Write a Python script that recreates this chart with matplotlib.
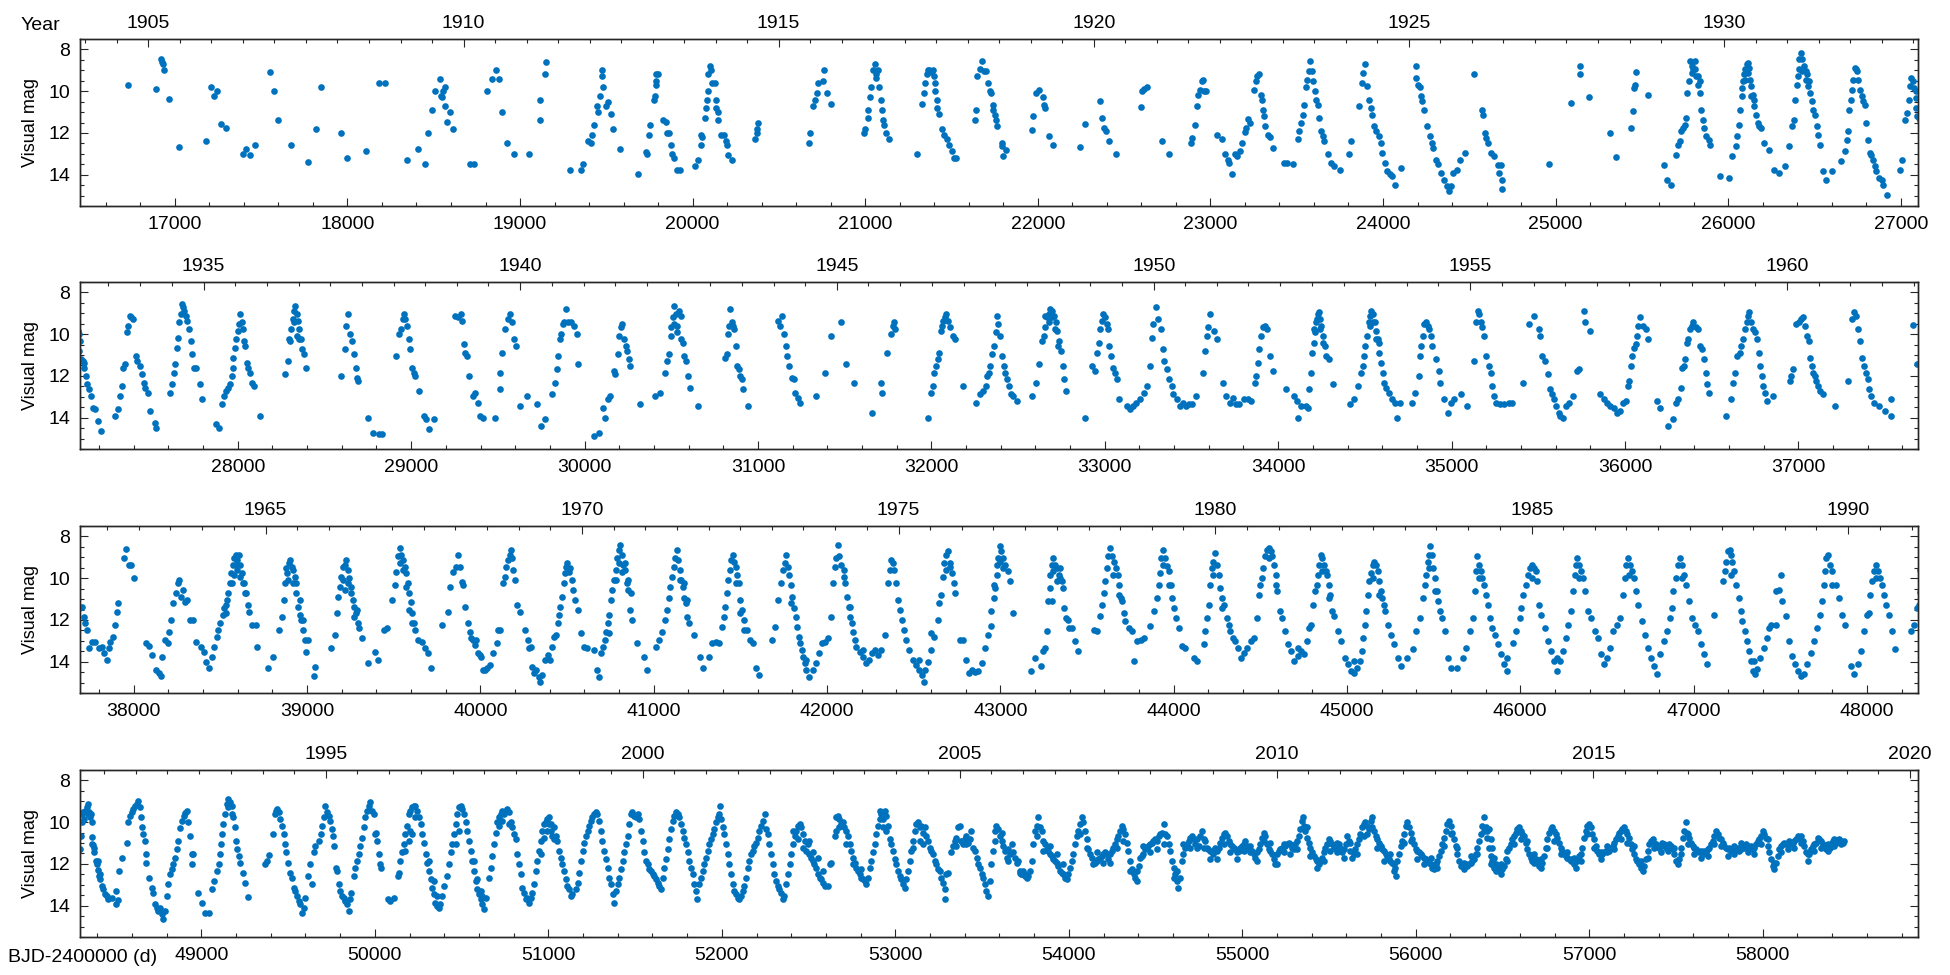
import numpy as np
import matplotlib
matplotlib.use("Agg")
import matplotlib.pyplot as plt
from matplotlib.ticker import MultipleLocator, FixedLocator, FormatStrFormatter
from datetime import date

plt.rcParams['font.family'] = ['Liberation Sans', 'DejaVu Sans']

# =====================================================================
# DATA: (BJD-2400000, visual mag), per panel
# =====================================================================
obs_1905 = [
    (16727, 9.68), (16891, 9.89), (16920, 8.48), (16925, 8.59), (16930, 8.7), (16935, 8.99), (16964, 10.37),
    (17025, 12.67), (17182, 12.38), (17207, 9.79), (17225, 10.21), (17244, 10.0), (17269, 11.57), (17298, 11.78),
    (17393, 12.99), (17415, 12.77), (17436, 13.07), (17465, 12.59), (17553, 9.09), (17574, 9.98), (17600, 11.39),
    (17673, 12.59), (17774, 13.38), (17818, 11.79), (17847, 9.81), (17964, 12.0), (18000, 13.18), (18105, 12.88),
    (18182, 9.6), (18218, 9.6), (18345, 13.28), (18411, 12.78), (18447, 13.47), (18469, 12.0), (18491, 10.9),
    (18509, 10.0), (18534, 9.41), (18542, 10.21), (18549, 10.3), (18556, 10.0), (18563, 9.81), (18563, 10.69),
    (18578, 11.49), (18593, 10.99), (18611, 11.79), (18709, 13.47), (18734, 13.47), (18807, 10.0), (18836, 9.41),
    (18862, 8.99), (18876, 9.41), (18898, 10.99), (18927, 12.48), (18963, 12.99), (19054, 12.99), (19116, 10.4),
    (19116, 11.39), (19145, 9.2), (19152, 8.59), (19291, 13.79), (19356, 13.79), (19363, 13.47), (19393, 12.38),
    (19411, 12.48), (19418, 12.08), (19429, 11.6), (19447, 10.69), (19454, 10.99), (19462, 10.21), (19472, 8.99),
    (19472, 9.28), (19483, 9.81), (19498, 10.69), (19509, 10.5), (19527, 11.09), (19538, 11.79), (19582, 12.78),
    (19683, 13.98), (19727, 12.9), (19734, 12.99), (19745, 12.08), (19752, 11.6), (19774, 10.4), (19782, 10.21),
    (19789, 9.2), (19800, 9.2), (19789, 9.52), (19789, 9.7), (19829, 11.39), (19843, 11.49), (19854, 12.0),
    (19865, 12.0), (19872, 12.59), (19880, 12.99), (19891, 13.18), (19909, 13.79), (19927, 13.79), (20011, 13.58),
    (20029, 13.3), (20047, 12.59), (20047, 12.08), (20054, 12.2), (20072, 11.28), (20080, 10.8), (20083, 10.4),
    (20087, 10.0), (20091, 9.2), (20098, 8.8), (20109, 8.99), (20112, 9.6), (20127, 9.6), (20134, 10.4),
    (20138, 10.8), (20145, 10.99), (20145, 11.39), (20163, 12.08), (20182, 12.08), (20192, 12.38), (20200, 12.59),
    (20207, 13.07), (20229, 13.3), (20363, 12.29), (20371, 12.0), (20374, 11.79), (20381, 11.52), (20672, 12.48),
    (20680, 12.0), (20698, 10.69), (20709, 10.4), (20723, 10.11), (20727, 9.6), (20756, 9.52), (20763, 8.99),
    (20781, 10.11), (20800, 10.59), (20992, 12.0), (21000, 11.79), (21018, 11.28), (21018, 10.9), (21029, 10.3),
    (21036, 9.79), (21047, 8.99), (21054, 8.72), (21061, 9.2), (21061, 9.36), (21072, 8.99), (21080, 9.79),
    (21091, 10.4), (21098, 10.9), (21101, 11.39), (21109, 11.6), (21120, 12.0), (21138, 12.29), (21298, 12.99),
    (21327, 10.59), (21338, 10.11), (21345, 9.6), (21356, 9.2), (21363, 8.99), (21370, 8.99), (21381, 9.09),
    (21392, 8.99), (21400, 9.28), (21407, 9.6), (21407, 10.0), (21418, 10.4), (21418, 10.8), (21425, 11.09),
    (21447, 11.79), (21454, 12.08), (21472, 12.29), (21483, 12.59), (21501, 12.88), (21516, 13.18), (21527, 13.18),
    (21636, 11.39), (21643, 10.9), (21650, 9.28), (21664, 8.96), (21675, 8.56), (21686, 9.04), (21700, 9.04),
    (21711, 9.6), (21722, 10.0), (21729, 10.08), (21740, 10.64), (21740, 10.88), (21751, 11.12), (21758, 11.39),
    (21765, 11.68), (21791, 12.48), (21791, 12.64), (21801, 13.12), (21816, 12.8), (21964, 11.84), (21971, 11.2),
    (21989, 10.08), (22007, 9.95), (22029, 10.29), (22036, 10.64), (22043, 10.8), (22065, 12.16), (22090, 12.59),
    (22242, 12.69), (22271, 11.57), (22361, 10.48), (22372, 11.28), (22386, 11.76), (22397, 11.92), (22415, 12.4),
    (22451, 12.99), (22596, 10.77), (22603, 10.0), (22614, 9.89), (22632, 9.79), (22722, 12.4), (22758, 12.99),
    (22885, 12.48), (22895, 12.24), (22910, 11.6), (22921, 10.72), (22928, 10.16), (22939, 9.92), (22950, 9.52),
    (22957, 9.47), (22964, 10.0), (22975, 10.0), (23040, 12.08), (23065, 12.29), (23083, 12.99), (23101, 13.28),
    (23108, 13.44), (23126, 13.98), (23144, 12.99), (23155, 13.12), (23173, 12.88), (23184, 12.48), (23198, 11.97),
    (23209, 11.76), (23216, 11.31), (23227, 11.52), (23253, 9.92), (23264, 9.52), (23271, 9.28), (23282, 9.2),
    (23292, 10.16), (23300, 10.4), (23307, 10.88), (23310, 11.2), (23318, 11.68), (23336, 12.08), (23347, 12.19),
    (23361, 12.72), (23426, 13.44), (23444, 13.44), (23480, 13.47), (23505, 12.29), (23516, 11.92), (23523, 11.52),
    (23534, 11.12), (23541, 10.64), (23552, 9.79), (23560, 9.44), (23570, 9.04), (23578, 8.56), (23588, 9.04),
    (23596, 9.52), (23606, 10.0), (23614, 10.4), (23624, 10.64), (23632, 11.28), (23643, 11.92), (23650, 12.16),
    (23661, 12.4), (23679, 12.99), (23697, 13.44), (23715, 13.6), (23751, 13.76), (23805, 12.99), (23816, 12.4),
    (23859, 10.72), (23877, 9.6), (23884, 9.15), (23895, 8.72), (23906, 9.76), (23921, 10.4), (23931, 10.8),
    (23939, 11.12), (23949, 11.68), (23960, 11.92), (23975, 12.16), (23986, 12.48), (23996, 12.96), (24011, 13.44),
    (24022, 13.84), (24040, 13.95), (24050, 14.08), (24069, 14.48), (24105, 13.68), (24191, 8.77), (24191, 9.36),
    (24202, 9.68), (24213, 9.79), (24220, 10.24), (24227, 10.48), (24238, 10.88), (24256, 11.68), (24274, 12.16),
    (24285, 12.48), (24292, 12.72), (24310, 13.28), (24321, 13.47), (24336, 13.92), (24354, 14.24), (24372, 14.56),
    (24383, 14.8), (24393, 14.56), (24408, 13.92), (24429, 13.76), (24444, 13.28), (24473, 12.96), (24527, 9.2),
    (24574, 10.88), (24581, 11.12), (24592, 12.0), (24599, 12.24), (24606, 12.48), (24628, 12.96), (24646, 13.12),
    (24664, 13.52), (24671, 13.92), (24682, 13.52), (24690, 14.24), (24690, 14.69), (24960, 13.47), (25087, 10.56),
    (25141, 8.8), (25141, 9.2), (25195, 10.29), (25314, 12.0), (25350, 13.17), (25437, 11.76), (25448, 10.96),
    (25455, 9.84), (25458, 9.68), (25466, 9.09), (25538, 10.19), (25628, 13.55), (25646, 14.27), (25671, 14.48),
    (25700, 13.04), (25711, 12.56), (25718, 12.4), (25729, 11.92), (25736, 11.76), (25747, 11.6), (25754, 11.28),
    (25761, 10.08), (25772, 9.52), (25780, 8.56), (25790, 8.8), (25798, 8.96), (25808, 8.56), (25816, 9.28),
    (25826, 9.68), (25837, 10.08), (25845, 10.88), (25852, 11.36), (25862, 11.76), (25873, 12.16), (25887, 12.32),
    (25894, 12.56), (25790, 9.12), (25808, 8.96), (25826, 9.28), (25837, 9.52), (25953, 14.08), (26007, 14.16),
    (26025, 13.12), (26043, 12.64), (26054, 12.16), (26061, 11.6), (26068, 10.88), (26079, 9.84), (26087, 9.52),
    (26090, 9.2), (26097, 8.96), (26108, 8.72), (26115, 8.64), (26123, 8.88), (26126, 9.44), (26133, 9.76),
    (26141, 10.16), (26152, 10.72), (26159, 11.12), (26170, 11.52), (26177, 11.68), (26188, 11.76), (26206, 12.48),
    (26235, 12.8), (26097, 9.44), (26115, 9.12), (26133, 10.24), (26152, 10.4), (26079, 10.24), (26267, 13.76),
    (26296, 13.92), (26332, 13.6), (26350, 12.64), (26368, 11.68), (26379, 11.36), (26386, 10.4), (26397, 9.68),
    (26404, 9.28), (26411, 8.48), (26422, 8.16), (26429, 8.48), (26440, 8.8), (26451, 9.04), (26458, 9.2),
    (26469, 9.52), (26476, 10.08), (26487, 10.48), (26494, 10.88), (26502, 11.12), (26512, 11.68), (26520, 12.08),
    (26530, 12.56), (26411, 8.96), (26429, 9.04), (26451, 9.44), (26465, 9.76), (26548, 13.84), (26566, 14.24),
    (26602, 13.84), (26656, 13.36), (26675, 12.88), (26686, 12.32), (26693, 11.92), (26700, 10.88), (26711, 10.4),
    (26718, 9.92), (26726, 9.44), (26733, 8.88), (26740, 8.96), (26747, 9.04), (26754, 9.44), (26765, 9.92),
    (26776, 10.24), (26783, 10.48), (26790, 10.64), (26801, 11.52), (26809, 12.32), (26819, 12.96), (26830, 13.04),
    (26837, 13.28), (26848, 13.6), (26855, 13.84), (26873, 14.16), (26891, 14.24), (26899, 14.48), (26920, 14.96),
    (26993, 13.76), (27007, 13.28), (27025, 11.36), (27036, 11.04), (27047, 10.4), (27054, 9.76), (27061, 9.36),
    (27072, 9.52), (27079, 9.84), (27090, 10.32),
]

obs_1935 = [
    (27087, 10.0), (27087, 10.8), (27094, 11.2), (27105, 11.28), (27112, 11.36), (27116, 11.6), (27123, 12.0),
    (27130, 12.4), (27141, 12.64), (27156, 12.96), (27167, 13.52), (27177, 13.6), (27196, 14.16), (27210, 14.64),
    (27294, 13.92), (27312, 13.6), (27323, 12.96), (27330, 12.48), (27341, 11.6), (27348, 11.44), (27359, 9.92),
    (27366, 9.6), (27377, 9.12), (27384, 9.2), (27395, 9.28), (27413, 11.04), (27420, 11.28), (27439, 11.52),
    (27449, 11.92), (27457, 12.32), (27467, 12.56), (27485, 12.8), (27493, 13.68), (27522, 14.24), (27529, 14.48),
    (27609, 12.8), (27620, 12.4), (27630, 11.84), (27638, 11.44), (27649, 10.64), (27656, 10.16), (27663, 9.44),
    (27670, 9.04), (27678, 8.56), (27685, 8.72), (27692, 8.88), (27699, 9.12), (27710, 9.36), (27721, 9.76),
    (27728, 10.32), (27739, 10.96), (27746, 11.6), (27757, 11.6), (27783, 12.4), (27793, 13.12), (27873, 14.32),
    (27891, 14.48), (27909, 13.36), (27920, 12.96), (27935, 12.72), (27946, 12.56), (27953, 12.4), (27964, 12.0),
    (27971, 11.6), (27975, 11.12), (27982, 10.64), (27989, 10.24), (28000, 9.84), (28007, 9.52), (28014, 9.04),
    (28022, 9.44), (28029, 9.76), (28036, 10.32), (28043, 10.56), (28054, 11.36), (28062, 11.6), (28072, 11.84),
    (28083, 12.32), (28091, 12.48), (28127, 13.92), (28272, 11.92), (28290, 11.28), (28297, 10.24), (28308, 9.76),
    (28319, 9.28), (28326, 8.88), (28333, 8.64), (28341, 9.04), (28348, 9.36), (28355, 9.76), (28362, 10.24),
    (28373, 10.72), (28380, 10.96), (28391, 11.6), (28301, 10.32), (28326, 9.44), (28344, 10.08), (28355, 10.24),
    (28598, 12.0), (28616, 10.72), (28623, 9.6), (28634, 9.04), (28645, 10.0), (28659, 10.32), (28670, 10.96),
    (28681, 11.6), (28688, 12.08), (28696, 12.24), (28750, 14.0), (28779, 14.72), (28815, 14.8), (28833, 14.8),
    (28913, 11.04), (28931, 10.0), (28942, 9.76), (28953, 9.28), (28960, 9.04), (28967, 9.28), (28978, 9.6),
    (28989, 10.24), (28996, 10.72), (29007, 11.6), (29014, 11.84), (29025, 12.0), (29043, 12.72), (29076, 13.92),
    (29087, 14.08), (29105, 14.56), (29134, 14.08), (29250, 9.12), (29268, 9.2), (29286, 9.04), (29293, 9.36),
    (29304, 10.48), (29311, 10.88), (29322, 11.04), (29333, 12.0), (29359, 12.96), (29370, 12.8), (29384, 13.28),
    (29395, 13.92), (29413, 14.0), (29485, 14.0), (29511, 12.64), (29514, 11.84), (29522, 10.88), (29540, 9.76),
    (29558, 9.28), (29569, 9.04), (29580, 9.44), (29594, 10.24), (29605, 10.56), (29630, 13.44), (29666, 12.96),
    (29728, 13.36), (29746, 14.4), (29774, 14.08), (29811, 12.88), (29829, 12.32), (29840, 11.68), (29847, 11.04),
    (29858, 10.24), (29866, 10.0), (29873, 9.52), (29884, 9.44), (29895, 8.8), (29905, 9.44), (29920, 9.44),
    (29938, 9.6), (29956, 10.0), (29964, 11.44), (30054, 14.88), (30083, 14.72), (30109, 13.52), (30119, 14.0),
    (30138, 13.12), (30145, 12.96), (30167, 11.76), (30174, 11.92), (30192, 10.96), (30199, 10.08), (30210, 9.68),
    (30217, 9.52), (30228, 10.24), (30239, 10.56), (30246, 10.8), (30257, 11.2), (30264, 11.52), (30319, 13.36),
    (30409, 12.96), (30434, 12.8), (30463, 11.84), (30474, 11.28), (30489, 10.96), (30500, 9.68), (30511, 9.2),
    (30518, 8.64), (30529, 9.04), (30536, 9.6), (30547, 8.88), (30558, 9.12), (30565, 10.4), (30572, 11.04),
    (30583, 11.28), (30598, 12.0), (30609, 12.56), (30656, 13.44), (30500, 10.08), (30518, 9.52), (30536, 9.92),
    (30554, 10.24), (30808, 11.12), (30819, 10.96), (30826, 10.0), (30833, 9.6), (30841, 8.8), (30848, 9.44),
    (30855, 9.6), (30862, 9.76), (30873, 10.56), (30880, 11.52), (30891, 11.68), (30898, 12.0), (30909, 12.16),
    (30916, 12.64), (30945, 13.44), (31116, 9.36), (31127, 9.6), (31141, 9.12), (31152, 10.0), (31163, 10.56),
    (31170, 11.04), (31181, 11.52), (31196, 12.08), (31206, 12.16), (31213, 12.8), (31232, 13.04), (31242, 13.28),
    (31333, 12.96), (31387, 11.84), (31424, 10.08), (31478, 9.44), (31507, 11.44), (31554, 12.32), (31656, 13.76),
    (31707, 12.32), (31717, 12.8), (31743, 10.88), (31765, 10.0), (31779, 9.6), (31786, 9.44), (31793, 9.76),
    (31982, 14.0), (32000, 12.8), (32007, 12.48), (32018, 11.84), (32025, 11.52), (32036, 11.2), (32043, 10.88),
    (32054, 9.84), (32062, 9.6), (32069, 9.36), (32080, 9.2), (32087, 9.04), (32098, 9.36), (32109, 9.68),
    (32127, 10.08), (32134, 10.24), (32185, 12.48),
    (32255, 13.28), (32280, 12.88), (32298, 12.72), (32316, 12.48), (32323, 12.0), (32334, 11.84), (32341, 11.52),
    (32352, 10.96), (32359, 10.56), (32370, 9.92), (32377, 9.12), (32384, 9.52), (32395, 10.08), (32406, 11.04),
    (32417, 11.52), (32424, 11.84), (32435, 12.16), (32449, 12.48), (32460, 12.88), (32471, 12.96), (32496, 13.2),
    (32579, 12.96), (32604, 12.32), (32622, 11.44), (32640, 10.32), (32647, 10.08), (32658, 9.68), (32669, 9.2),
    (32676, 9.04), (32683, 8.8), (32694, 8.88), (32705, 9.12), (32716, 9.44), (32726, 9.84), (32737, 10.32),
    (32748, 10.8), (32759, 11.52), (32766, 12.16), (32777, 12.72), (32658, 9.12), (32676, 9.44), (32694, 9.2),
    (32712, 9.76), (32730, 10.56), (32885, 14.0), (32928, 11.52), (32946, 11.76), (32953, 10.88), (32964, 10.4),
    (32971, 9.76), (32982, 9.36), (32989, 9.04), (33000, 9.2), (33011, 9.52), (33018, 9.76), (33025, 10.56),
    (33036, 11.04), (33047, 11.6), (33061, 11.84), (33072, 12.16), (33083, 13.12), (33126, 13.44), (33144, 13.6),
    (33162, 13.44), (33180, 13.28), (33205, 13.12), (33227, 12.8), (33245, 12.48), (33259, 11.52), (33270, 10.16),
    (33281, 9.52), (33295, 8.72), (33306, 9.28), (33324, 9.76), (33335, 10.72), (33342, 11.28), (33360, 11.68),
    (33371, 12.16), (33385, 12.48), (33396, 12.88), (33414, 13.12), (33432, 13.44), (33450, 13.28), (33468, 13.44),
    (33486, 13.36), (33504, 13.36), (33529, 12.96), (33565, 11.84), (33576, 10.8), (33587, 10.08), (33594, 9.68),
    (33608, 9.04), (33630, 9.84), (33648, 10.24), (33684, 12.32), (33702, 12.96), (33720, 13.28), (33738, 13.04),
    (33756, 13.36), (33774, 13.36), (33803, 13.12), (33828, 13.12), (33846, 13.2), (33864, 12.32), (33875, 12.0),
    (33882, 11.36), (33889, 10.72), (33900, 10.08), (33911, 9.68), (33925, 9.6), (33936, 9.76), (33954, 11.04),
    (33972, 11.76), (34044, 12.64), (34091, 12.96), (34109, 13.2), (34116, 14.0), (34134, 13.44), (34163, 13.44),
    (34170, 13.52), (34177, 12.64), (34188, 11.84), (34195, 10.88), (34206, 10.4), (34213, 9.92), (34220, 9.44),
    (34228, 9.04), (34235, 8.96), (34242, 9.28), (34249, 9.6), (34260, 10.08), (34271, 10.56), (34278, 11.04),
    (34296, 11.2), (34314, 12.4), (34206, 9.76), (34224, 9.28), (34242, 9.76), (34260, 10.4), (34415, 13.36),
    (34440, 13.12), (34458, 12.48), (34476, 11.84), (34487, 11.52), (34494, 11.04), (34501, 10.56), (34512, 10.08),
    (34523, 9.44), (34530, 9.12), (34537, 8.88), (34548, 9.04), (34559, 9.44), (34566, 9.84), (34577, 10.24),
    (34584, 10.88), (34595, 11.36), (34602, 11.84), (34613, 12.32), (34620, 12.56), (34638, 12.8), (34656, 13.12),
    (34674, 13.28), (34688, 14.0), (34703, 13.28), (34530, 9.6), (34548, 9.44), (34566, 10.24), (34584, 10.4),
    (34771, 13.28), (34789, 12.8), (34811, 12.0), (34818, 11.04), (34825, 10.56), (34836, 10.08), (34843, 9.52),
    (34854, 9.44), (34865, 9.6), (34872, 9.76), (34883, 10.08), (34890, 10.56), (34908, 11.2), (34926, 11.76),
    (34933, 12.32), (34955, 13.12), (34980, 13.76), (34998, 13.28), (35016, 13.12), (35052, 12.88), (35088, 13.44),
    (35128, 11.28), (35142, 9.44), (35153, 8.88), (35160, 9.04), (35171, 9.44), (35178, 9.68), (35189, 10.08),
    (35200, 11.04), (35214, 11.52), (35225, 11.84), (35236, 12.48), (35243, 12.96), (35257, 13.28), (35279, 13.36),
    (35304, 13.36), (35329, 13.28), (35351, 13.28), (35412, 12.32), (35448, 9.52), (35477, 9.12), (35502, 9.76),
    (35509, 10.08), (35520, 11.04), (35538, 11.28), (35556, 11.92), (35567, 12.64), (35581, 12.88), (35592, 13.12),
    (35603, 13.44), (35617, 13.76), (35626, 13.92), (35644, 14.0), (35662, 13.44), (35680, 13.28), (35698, 12.96),
    (35723, 11.76), (35734, 11.68), (35761, 8.88), (35772, 9.44), (35797, 9.84), (35855, 12.88), (35880, 13.12),
    (35898, 13.28), (35916, 13.44), (35934, 13.52), (35952, 13.76), (35970, 13.68), (35988, 13.28), (36006, 13.2),
    (36017, 12.48), (36024, 12.24), (36035, 11.52), (36042, 11.04), (36053, 10.64), (36064, 10.48), (36071, 10.08),
    (36078, 9.6), (36089, 9.2), (36103, 9.6), (36121, 9.76), (36132, 10.24), (36186, 13.2), (36204, 13.52),
    (36251, 14.4), (36276, 14.08), (36294, 13.28), (36305, 13.12), (36323, 12.56), (36330, 11.6), (36341, 11.52),
    (36348, 11.2), (36359, 10.4), (36366, 10.24), (36377, 9.76), (36384, 9.6), (36395, 9.44), (36409, 9.68),
    (36420, 9.76), (36431, 10.56), (36445, 10.72), (36456, 11.2), (36467, 11.84), (36474, 12.4), (36485, 12.8),
    (36582, 13.92), (36611, 13.12), (36625, 12.32), (36636, 11.84), (36647, 11.04), (36661, 10.88), (36672, 10.56),
    (36683, 10.24), (36690, 9.76), (36701, 9.44), (36708, 9.12), (36715, 8.96), (36726, 9.44), (36737, 9.76),
    (36752, 9.92), (36762, 10.24), (36773, 10.88), (36780, 11.52), (36791, 12.0), (36798, 12.48), (36809, 12.8),
    (36820, 13.2), (36852, 12.96), (36949, 12.24), (36960, 12.0), (36971, 11.68), (36989, 9.52), (37003, 9.44),
    (37014, 9.28), (37025, 9.2), (37036, 9.6), (37050, 10.08), (37061, 10.32), (37068, 11.12), (37079, 11.52),
    (37086, 11.84), (37097, 12.0), (37104, 12.24), (37115, 12.48), (37122, 12.72), (37140, 12.88), (37212, 13.44),
    (37284, 12.24), (37309, 9.28), (37320, 8.96), (37331, 9.12), (37345, 9.76), (37356, 10.32), (37367, 11.12),
    (37381, 11.52), (37392, 11.84), (37399, 12.16), (37410, 12.64), (37421, 12.96), (37439, 13.28), (37464, 13.44),
    (37500, 13.68), (37536, 13.12), (37536, 13.92), (37662, 9.57),
]

obs_1965 = [
    (37686, 11.44), (37700, 11.36), (37711, 11.84), (37718, 12.16), (37729, 12.48), (37740, 13.36), (37758, 13.04),
    (37776, 13.04), (37801, 13.36), (37819, 13.28), (37830, 13.6), (37845, 13.92), (37856, 13.36), (37866, 13.04),
    (37881, 12.8), (37892, 12.24), (37902, 11.6), (37910, 11.2), (37946, 9.04), (37957, 8.61), (37971, 9.36),
    (37982, 9.36), (38000, 10.0), (38072, 13.12), (38090, 13.25), (38108, 13.68), (38126, 14.4), (38144, 14.56),
    (38155, 14.69), (38162, 13.76), (38180, 12.96), (38199, 13.12), (38206, 12.56), (38217, 12.0), (38227, 11.2),
    (38242, 10.72), (38253, 10.24), (38264, 10.08), (38271, 10.88), (38282, 10.56), (38296, 11.12), (38307, 11.04),
    (38325, 12.0), (38343, 12.0), (38361, 13.04), (38390, 13.28), (38408, 13.52), (38415, 14.0), (38433, 14.32),
    (38451, 13.76), (38462, 13.28), (38480, 12.8), (38488, 12.48), (38498, 12.16), (38513, 11.76), (38523, 11.44),
    (38534, 11.28), (38545, 10.72), (38556, 10.24), (38563, 9.76), (38574, 9.36), (38581, 9.04), (38588, 8.88),
    (38596, 9.12), (38606, 8.88), (38614, 9.36), (38624, 9.76), (38632, 10.24), (38642, 10.72), (38657, 11.28),
    (38668, 11.6), (38682, 12.24), (38704, 12.24), (38711, 13.28), (38567, 10.24), (38578, 9.84), (38596, 9.6),
    (38614, 9.92), (38588, 9.36), (38639, 10.24), (38650, 10.72), (38541, 11.04), (38530, 11.68), (38776, 14.32),
    (38802, 13.76), (38838, 12.48), (38856, 11.84), (38866, 11.04), (38874, 10.24), (38884, 9.76), (38895, 9.28),
    (38903, 9.12), (38913, 9.44), (38920, 9.6), (38931, 9.92), (38939, 10.72), (38949, 11.36), (38957, 11.76),
    (38967, 12.0), (38975, 12.48), (38986, 12.96), (38993, 13.52), (39004, 12.96), (39040, 14.69), (39047, 14.24),
    (38877, 9.52), (38891, 10.08), (38920, 10.24), (38939, 10.24), (38957, 11.04), (38975, 12.0), (39137, 13.36),
    (39162, 12.72), (39173, 11.68), (39180, 10.88), (39191, 10.4), (39199, 9.92), (39209, 9.44), (39220, 9.36),
    (39227, 9.12), (39238, 9.6), (39245, 10.0), (39252, 10.4), (39263, 11.04), (39274, 11.36), (39281, 11.68),
    (39292, 12.16), (39300, 12.4), (39318, 12.88), (39354, 14.08), (39390, 13.52), (39408, 13.92), (39209, 10.08),
    (39220, 10.56), (39238, 10.24), (39256, 10.72), (39270, 11.84), (39289, 11.52), (39444, 12.48), (39462, 12.4),
    (39491, 11.04), (39509, 10.32), (39516, 9.68), (39523, 8.96), (39534, 8.56), (39545, 8.88), (39552, 9.12),
    (39563, 9.44), (39571, 9.76), (39581, 10.24), (39589, 10.72), (39599, 11.12), (39607, 11.68), (39617, 12.16),
    (39625, 12.48), (39643, 12.96), (39661, 13.04), (39679, 13.36), (39697, 13.6), (39715, 14.32), (39534, 9.28),
    (39552, 9.6), (39571, 10.4), (39589, 11.52), (39607, 12.16), (39780, 12.24), (39816, 11.6), (39823, 10.4),
    (39841, 9.68), (39859, 9.44), (39870, 8.88), (39884, 9.44), (39895, 10.16), (39902, 10.32), (39913, 11.36),
    (39931, 12.16), (39939, 12.56), (39949, 12.88), (39960, 12.96), (39968, 13.2), (39975, 12.96), (39986, 13.6),
    (39996, 13.68), (40004, 13.76), (40014, 14.4), (40025, 14.4), (40040, 14.32), (40058, 14.16), (40076, 13.6),
    (40094, 13.12), (40101, 12.48), (40112, 12.48), (40130, 10.24), (40141, 9.92), (40148, 9.44), (40159, 9.12),
    (40174, 8.88), (40177, 8.64), (40184, 9.04), (40191, 9.6), (40202, 10.08), (40213, 11.28), (40231, 11.6),
    (40256, 12.48), (40274, 12.96), (40282, 13.36), (40293, 13.28), (40300, 14.24), (40311, 14.56), (40321, 14.4),
    (40336, 14.72), (40347, 14.96), (40354, 14.64), (40376, 13.92), (40390, 13.68), (40401, 13.92), (40411, 13.28),
    (40426, 12.8), (40437, 12.72), (40448, 12.16), (40455, 11.76), (40462, 11.36), (40473, 10.88), (40480, 10.24),
    (40487, 9.76), (40494, 9.44), (40502, 9.28), (40509, 9.68), (40516, 9.52), (40527, 10.08), (40534, 10.56),
    (40545, 11.04), (40563, 11.52), (40581, 12.64), (40599, 13.28), (40617, 13.36), (40653, 13.44), (40671, 14.4),
    (40682, 14.72), (40697, 13.6), (40708, 13.28), (40718, 12.96), (40725, 12.56), (40736, 12.16), (40744, 11.76),
    (40755, 11.04), (40762, 10.56), (40773, 10.08), (40780, 9.6), (40787, 9.04), (40798, 8.64), (40805, 8.4),
    (40816, 8.88), (40823, 9.36), (40834, 9.6), (40845, 10.24), (40852, 10.56), (40863, 11.52), (40877, 12.0),
    (40906, 13.12), (40942, 13.76), (40960, 14.4), (40780, 10.08), (40798, 9.28), (40816, 9.68), (40834, 9.28),
    (40852, 10.08), (40870, 10.72), (40744, 12.64), (41014, 13.28), (41032, 12.96), (41050, 12.56), (41068, 12.0),
    (41079, 11.52), (41086, 10.96), (41097, 10.4), (41105, 9.92), (41115, 9.44), (41123, 9.04), (41133, 8.64),
    (41141, 9.12), (41152, 9.6), (41159, 10.08), (41170, 10.4), (41177, 10.96), (41188, 11.2), (41195, 11.84),
    (41206, 12.16), (41231, 12.72), (41267, 13.76), (41285, 14.32), (41321, 13.76), (41339, 13.12), (41357, 13.04),
    (41375, 13.12), (41393, 12.32), (41404, 11.84), (41411, 11.36), (41422, 10.72), (41429, 10.08), (41440, 9.6),
    (41447, 9.12), (41458, 8.88), (41465, 9.2), (41476, 9.44), (41483, 9.84), (41494, 10.24), (41501, 11.04),
    (41512, 11.52), (41519, 12.0), (41537, 12.48), (41555, 12.96), (41573, 13.12), (41592, 14.32), (41610, 14.64),
    (41152, 10.08), (41177, 10.24), (41195, 11.04), (41476, 10.24), (41501, 11.68), (41519, 12.48), (41682, 12.96),
    (41700, 12.32), (41718, 11.04), (41736, 10.24), (41747, 9.6), (41755, 9.28), (41766, 8.88), (41773, 9.44),
    (41783, 9.84), (41791, 10.32), (41801, 10.88), (41809, 11.44), (41819, 11.84), (41827, 12.32), (41837, 12.8),
    (41845, 13.12), (41855, 13.44), (41863, 13.76), (41874, 14.08), (41881, 14.4), (41899, 14.72), (41917, 14.4),
    (41935, 14.08), (41953, 13.6), (41971, 13.12), (41989, 13.04), (42007, 12.88), (42025, 11.84), (42036, 10.24),
    (42047, 9.44), (42054, 9.04), (42061, 8.4), (42072, 8.96), (42083, 9.36), (42097, 9.6), (42105, 10.24),
    (42115, 10.88), (42126, 11.36), (42133, 11.84), (42144, 12.16), (42151, 12.56), (42162, 12.96), (42169, 13.28),
    (42188, 13.52), (42206, 13.76), (42224, 14.08), (42242, 13.92), (42260, 13.6), (42278, 13.44), (42296, 13.68),
    (42314, 13.44), (42332, 12.72), (42350, 10.24), (42361, 9.6), (42368, 9.12), (42379, 9.28), (42386, 9.6),
    (42397, 10.24), (42408, 11.04), (42422, 11.52), (42433, 12.0), (42444, 12.48), (42458, 12.96), (42476, 13.44),
    (42494, 13.92), (42512, 14.16), (42530, 14.4), (42548, 14.64), (42559, 14.96), (42566, 14.4), (42584, 14.0),
    (42602, 13.44), (42620, 12.8), (42638, 12.0), (42649, 11.2), (42657, 10.8), (42668, 9.92), (42675, 9.28),
    (42686, 8.88), (42697, 8.72), (42711, 9.44), (42722, 9.76), (42733, 10.24), (42740, 10.72), (41791, 11.2),
    (42097, 9.92), (42133, 11.36), (41881, 13.92), (42206, 13.44), (42530, 13.92), (42602, 12.64), (42686, 9.6),
    (42711, 9.28), (42765, 12.96), (42783, 12.96), (42801, 13.92), (42819, 14.56), (42837, 14.4),
    (42856, 14.5), (42874, 14.45), (42892, 14.05), (42910, 13.33), (42928, 12.7), (42946, 12.3), (42964, 10.95),
    (42971, 10.47), (42982, 9.83), (42989, 9.04), (43000, 8.48), (43007, 8.72), (43018, 9.04), (43029, 9.35),
    (43043, 9.67), (43054, 10.15), (43072, 11.66), (42982, 9.35), (43000, 9.2), (43018, 9.51), (42964, 10.31),
    (42946, 11.58), (43180, 14.45), (43199, 13.81), (43235, 14.21), (43245, 13.49), (43260, 13.33), (43271, 12.54),
    (43278, 11.1), (43289, 9.83), (43300, 9.35), (43307, 9.04), (43318, 9.35), (43325, 9.51), (43336, 9.83),
    (43343, 9.99), (43354, 10.15), (43361, 10.47), (43368, 11.42), (43379, 11.9), (43390, 11.98), (43397, 12.38),
    (43415, 12.38), (43433, 13.0), (43451, 13.49), (43289, 10.47), (43307, 9.67), (43325, 10.15), (43300, 11.1),
    (43343, 9.51), (43542, 12.46), (43560, 12.54), (43578, 11.82), (43589, 11.26), (43596, 10.71), (43607, 10.15),
    (43614, 9.51), (43622, 8.96), (43632, 8.56), (43643, 8.96), (43654, 9.2), (43668, 9.51), (43679, 9.83),
    (43686, 10.31), (43697, 10.95), (43704, 11.1), (43715, 11.66), (43722, 12.06), (43740, 12.38), (43758, 12.54),
    (43769, 13.97), (43787, 13.0), (43812, 12.94), (43830, 12.86), (43866, 12.3), (43884, 11.58), (43903, 10.95),
    (43914, 10.31), (43921, 9.75), (43928, 9.04), (43939, 8.64), (43950, 9.04), (43961, 9.43), (43975, 9.67),
    (43986, 10.31), (43993, 10.95), (44003, 11.42), (44011, 11.9), (44029, 12.38), (44047, 13.25), (44065, 13.33),
    (44119, 13.81), (44137, 13.97), (44173, 13.17), (44184, 12.54), (44191, 11.9), (44202, 11.26), (44209, 10.31),
    (44220, 9.51), (44227, 9.2), (44238, 8.8), (44252, 9.35), (44263, 9.83), (44270, 10.47), (44281, 10.95),
    (44292, 11.26), (44307, 11.9), (44318, 12.22), (44328, 12.54), (44343, 12.86), (44354, 13.0), (44372, 13.33),
    (44390, 13.81), (44408, 13.57), (44426, 13.33), (44444, 13.0), (44462, 12.86), (44480, 11.9), (44491, 10.79),
    (44498, 10.31), (44509, 9.99), (44516, 9.51), (44527, 8.96), (44538, 8.64), (44552, 8.56), (44563, 8.72),
    (44570, 8.96), (44581, 9.35), (44588, 9.83), (44599, 10.63), (44614, 11.58), (44625, 11.9), (44642, 12.54),
    (44661, 13.17), (44679, 13.49), (44697, 13.97), (44715, 13.73), (44733, 13.49), (44751, 13.65), (44769, 13.0),
    (44780, 12.38), (44791, 12.22), (44805, 11.26), (44816, 10.63), (44827, 10.31), (44834, 9.83), (44841, 9.35),
    (44852, 8.88), (44859, 9.04), (44870, 9.35), (44877, 9.67), (44885, 9.83), (44895, 10.31), (44903, 10.79),
    (44913, 11.58), (44924, 11.82), (44949, 12.54), (44967, 13.0), (44986, 13.81), (45004, 14.13), (45022, 14.45),
    (45040, 14.53), (45058, 14.29), (45076, 13.97), (45087, 13.49), (45094, 12.86), (45105, 12.22), (45112, 11.58),
    (45123, 10.79), (45130, 10.15), (45141, 9.75), (45148, 9.35), (45159, 9.2), (45166, 9.35), (45177, 9.67),
    (45184, 10.15), (45195, 10.63), (45202, 10.95), (45213, 11.26), (45220, 11.58), (45238, 12.22), (45256, 12.7),
    (45274, 13.17), (45292, 13.81), (45310, 14.21), (45346, 13.81), (45383, 13.41), (45401, 12.54), (45419, 11.9),
    (45437, 10.95), (45448, 10.31), (45455, 9.83), (45466, 9.2), (45473, 8.88), (45480, 8.48), (45491, 8.88),
    (45498, 9.51), (45509, 9.99), (45520, 10.63), (45527, 11.1), (45538, 11.58), (45549, 11.9), (45563, 12.54),
    (45581, 13.81), (45599, 14.29), (45635, 14.29), (45671, 13.81), (45689, 13.33), (45708, 12.54), (45726, 11.9),
    (45737, 10.63), (45744, 9.67), (45751, 8.96), (45762, 9.35), (45773, 9.67), (45780, 9.99), (45791, 10.31),
    (45802, 10.79), (45816, 11.26), (45827, 11.9), (45838, 12.38), (45852, 12.7), (45870, 13.17), (45888, 13.65),
    (45906, 14.13), (45924, 14.45), (45960, 13.1), (45978, 12.54), (45996, 11.9), (46007, 11.42), (46018, 10.79),
    (46032, 10.31), (46043, 9.83), (46057, 9.51), (46068, 9.35), (46079, 9.51), (46090, 9.67), (46097, 10.15),
    (46111, 11.26), (46122, 11.74), (46140, 12.38), (46158, 13.0), (46176, 13.49), (46194, 13.97), (46212, 14.45),
    (46230, 13.97), (46248, 13.49), (46266, 12.86), (46277, 12.22), (46292, 11.58), (46303, 10.63), (46314, 9.83),
    (46321, 9.35), (46328, 9.04), (46339, 9.35), (46350, 9.67), (46364, 9.99), (46375, 10.63), (46393, 11.58),
    (46411, 11.9), (46430, 12.54), (46448, 12.86), (46466, 13.65), (46484, 14.13), (46502, 13.81), (46520, 13.33),
    (46538, 12.54), (46556, 12.22), (46574, 11.9), (46592, 10.79), (46603, 9.99), (46610, 9.35), (46621, 9.04),
    (46632, 9.35), (46646, 9.67), (46657, 9.99), (46668, 10.63), (46682, 11.26), (46700, 12.06), (46718, 12.7),
    (46737, 13.33), (46755, 13.81), (46773, 14.21), (46791, 14.61), (46809, 13.65), (46827, 13.0), (46845, 12.54),
    (46863, 11.9), (46874, 11.42), (46884, 10.63), (46899, 9.99), (46910, 9.35), (46920, 9.04), (46935, 9.35),
    (46946, 9.83), (46956, 10.31), (46971, 11.1), (46989, 11.9), (47007, 12.22), (47025, 12.54), (47043, 13.17),
    (47061, 13.65), (47079, 14.13), (47115, 11.74), (47169, 10.15), (47180, 9.67), (47188, 9.2), (47198, 8.72),
    (47209, 8.64), (47216, 8.88), (47224, 9.2), (47234, 9.67), (47245, 10.31), (47260, 10.95), (47271, 11.58),
    (47281, 12.06), (47296, 12.54), (47307, 13.0), (47317, 13.49), (47332, 13.97), (47343, 14.45), (47354, 14.61),
    (47368, 14.37), (47386, 13.81), (47404, 13.33), (47422, 12.86), (47433, 12.38), (47448, 12.22), (47476, 10.63),
    (47494, 10.55), (47505, 9.83), (47512, 11.1), (47531, 11.82), (47549, 13.0), (47567, 13.73), (47585, 14.13),
    (47603, 14.45), (47621, 14.69), (47639, 14.61), (47657, 14.13), (47675, 13.57), (47693, 13.0), (47711, 12.38),
    (47729, 11.74), (47740, 11.1), (47751, 10.31), (47758, 9.67), (47765, 9.04), (47776, 8.88), (47787, 9.35),
    (47801, 9.67), (47819, 10.31), (47837, 10.95), (47855, 11.74), (47873, 12.22), (47910, 14.21), (47928, 14.61),
    (47946, 14.13), (47964, 13.49), (47982, 12.54), (48000, 11.74), (48011, 11.66), (48018, 10.79), (48029, 10.15),
    (48040, 9.67), (48054, 9.35), (48065, 9.67), (48076, 9.99), (48090, 10.31), (48101, 10.79), (48112, 11.26),
    (48126, 11.74), (48144, 12.54), (48162, 13.41), (48253, 12.54), (48271, 12.22), (48289, 11.42),
    (43650, 9.83), (43686, 10.79), (43939, 9.35), (43975, 10.31), (44227, 9.83), (44281, 11.42), (44552, 9.04),
    (44588, 10.31), (44859, 9.67), (44895, 10.95), (45148, 9.99), (45184, 10.79), (45473, 9.51), (45509, 10.63),
    (45762, 9.99), (46068, 9.99), (46339, 9.99), (46628, 9.83), (46935, 9.99), (47216, 9.83), (47476, 12.22),
    (47801, 10.31), (48054, 9.99), (46212, 13.81), (47350, 13.97), (45924, 13.81), (45040, 13.97), (44715, 13.33),
]

obs_1995 = [
    (48300, 11.3), (48306, 10.65), (48313, 10.0), (48319, 9.53), (48329, 9.45), (48338, 9.29), (48348, 9.13),
    (48352, 9.53), (48358, 9.77), (48363, 9.61), (48367, 10.0), (48371, 10.7), (48377, 11.1), (48383, 11.45),
    (48390, 11.85), (48396, 12.0), (48406, 12.3), (48410, 12.6), (48415, 12.74), (48425, 13.06), (48435, 13.22),
    (48444, 13.46), (48454, 13.54), (48463, 13.7), (48483, 13.62), (48506, 13.94), (48517, 13.75), (48309, 9.61),
    (48325, 9.85), (48344, 9.61), (48415, 12.5), (48402, 11.86), (48383, 11.22), (48371, 11.06), (48506, 13.3),
    (48527, 12.34), (48541, 11.7), (48569, 10.98), (48579, 10.0), (48589, 9.69), (48598, 9.53), (48608, 9.37),
    (48617, 9.21), (48627, 9.13), (48637, 8.97), (48646, 9.29), (48650, 9.77), (48660, 10.25), (48666, 10.57),
    (48675, 10.9), (48679, 11.54), (48681, 11.94), (48698, 12.66), (48714, 13.14), (48723, 13.38), (48733, 13.94),
    (48743, 14.1), (48752, 14.26), (48762, 14.1), (48771, 14.42), (48777, 14.66), (48791, 14.26), (48800, 13.54),
    (48810, 12.98), (48819, 12.5), (48829, 12.26), (48839, 12.0), (48848, 11.7), (48858, 11.3), (48868, 10.9),
    (48877, 10.3), (48887, 9.93), (48897, 9.69), (48906, 9.58), (48916, 9.45), (48925, 10.0), (48935, 10.65),
    (48945, 11.54), (48954, 11.54), (48945, 12.0), (48983, 13.38), (49002, 13.86), (49018, 14.37), (49041, 14.37),
    (49060, 13.22), (49070, 12.82), (49089, 12.34), (49099, 12.0), (49108, 11.54), (49114, 11.06), (49118, 10.57),
    (49127, 10.09), (49137, 9.61), (49147, 9.13), (49156, 8.89), (49166, 9.05), (49176, 9.21), (49179, 9.61),
    (49185, 9.77), (49195, 10.25), (49200, 10.9), (49208, 11.3), (49214, 11.62), (49224, 11.94), (49237, 12.42),
    (49252, 12.9), (49268, 13.59), (49152, 9.29), (49368, 12.0), (49378, 11.86), (49391, 11.57), (49412, 10.57),
    (49422, 9.61), (49430, 9.45), (49435, 9.37), (49445, 9.53), (49455, 9.85), (49464, 10.17), (49474, 10.57),
    (49480, 11.06), (49487, 11.45), (49497, 11.94), (49508, 12.42), (49522, 12.66), (49532, 13.14), (49541, 13.3),
    (49551, 13.54), (49560, 13.78), (49570, 13.94), (49580, 14.34), (49589, 14.1), (49599, 13.62), (49614, 12.58),
    (49637, 12.98), (49628, 12.0), (49647, 11.45), (49657, 11.14), (49676, 10.9), (49689, 10.57), (49695, 10.17),
    (49705, 9.77), (49714, 9.21), (49724, 9.53), (49734, 9.69), (49743, 9.93), (49753, 10.33), (49759, 10.65),
    (49766, 11.14), (49776, 12.18), (49782, 12.34), (49791, 12.98), (49801, 13.3), (49811, 13.54), (49820, 13.62),
    (49830, 13.78), (49839, 13.94), (49849, 14.26), (49859, 13.7), (49864, 13.38), (49878, 12.58), (49888, 12.18),
    (49897, 11.86), (49907, 11.54), (49917, 11.14), (49926, 10.74), (49936, 10.25), (49945, 9.77), (49955, 9.45),
    (49965, 9.21), (49974, 9.05), (49984, 9.45), (49993, 9.61), (49999, 10.57), (50007, 10.5), (50013, 10.9),
    (50022, 11.54), (50032, 12.0), (50038, 12.18), (50076, 13.7), (50090, 13.78), (50109, 13.62), (50134, 12.58),
    (50138, 12.42), (50147, 11.86), (50157, 11.45), (50167, 11.06), (50176, 10.57), (50186, 10.17), (50195, 9.61),
    (50205, 9.45), (50215, 9.29), (50224, 9.21), (50234, 9.21), (50244, 9.45), (50253, 9.77), (50263, 10.09),
    (50272, 10.57), (50282, 10.98), (50292, 11.54), (50301, 11.94), (50311, 12.34), (50321, 12.74), (50330, 13.14),
    (50340, 13.46), (50349, 13.86), (50359, 14.02), (50369, 14.1), (50378, 13.94), (50388, 13.54), (50398, 13.06),
    (50195, 10.9), (50215, 10.57), (50176, 11.38), (50205, 10.41), (50234, 9.77), (50311, 11.86), (50340, 12.82),
    (50359, 13.54), (50417, 12.58), (50427, 12.0), (50436, 11.45), (50446, 11.06), (50456, 10.57), (50465, 10.09),
    (50475, 9.61), (50484, 9.29), (50494, 9.21), (50504, 9.37), (50513, 9.61), (50523, 10.0), (50532, 10.41),
    (50542, 10.9), (50552, 11.38), (50561, 11.86), (50571, 12.34), (50581, 12.82), (50590, 13.22), (50600, 13.46),
    (50609, 13.7), (50619, 13.94), (50629, 14.18), (50638, 13.62), (50465, 11.06), (50484, 10.41), (50571, 11.86),
    (50590, 12.74), (50609, 13.3), (50619, 13.54), (50657, 12.66), (50667, 12.18), (50677, 11.62), (50686, 11.06),
    (50696, 10.5), (50705, 10.0), (50715, 9.77), (50725, 9.61), (50734, 9.45), (50744, 9.61), (50754, 9.45),
    (50763, 9.37), (50773, 9.53), (50782, 10.0), (50792, 10.25), (50802, 10.57), (50811, 10.82), (50821, 11.54),
    (50831, 12.0), (50840, 12.5), (50850, 13.14), (50860, 13.38), (50869, 13.7), (50879, 13.62), (50888, 13.86),
    (50898, 13.62), (50907, 13.38), (50917, 12.98), (50927, 12.34), (50936, 11.86), (50946, 11.38), (50956, 10.9),
    (50965, 10.41), (50975, 10.09), (50985, 10.0), (50994, 9.85), (51004, 10.09), (51013, 10.41), (51023, 10.65),
    (51032, 10.82), (50715, 10.17), (50734, 9.93), (50773, 10.09), (50956, 11.54), (50975, 10.74), (50994, 10.41),
    (51004, 9.77), (51014, 10.09), (51033, 10.25), (51043, 10.65), (51052, 10.9), (51062, 11.38), (51072, 11.7),
    (51081, 12.0), (51091, 12.34), (51100, 12.74), (51110, 13.06), (51120, 13.22), (51129, 13.54), (51139, 13.46),
    (51158, 13.22), (51168, 12.9), (51177, 12.42), (51187, 11.86), (51197, 11.38), (51206, 10.98), (51216, 10.65),
    (51226, 10.41), (51235, 10.17), (51245, 9.93), (51254, 9.77), (51264, 9.61), (51274, 9.53), (51283, 9.61),
    (51293, 9.93), (51303, 10.41), (51312, 10.9), (51322, 11.38), (51331, 11.78), (51341, 12.18), (51351, 12.66),
    (51360, 12.98), (51370, 13.46), (51380, 13.86), (51389, 13.3), (51399, 12.98), (51408, 12.66), (51418, 12.26),
    (51428, 11.86), (51437, 11.45), (51447, 11.06), (51457, 10.65), (51466, 10.09), (51476, 9.61), (51485, 9.53),
    (51495, 9.69), (51505, 9.77), (51514, 9.61), (51524, 9.85), (51533, 10.41), (51543, 10.9), (51553, 11.45),
    (51562, 11.86), (51572, 12.0), (51582, 12.26), (51591, 12.34), (51601, 12.5), (51610, 12.58), (51620, 12.74),
    (51630, 12.9), (51639, 13.06), (51649, 13.22), (51659, 12.66), (51668, 12.18), (51678, 11.78), (51687, 11.3),
    (51697, 10.82), (51707, 10.33), (51716, 9.93), (51726, 9.69), (51736, 9.53), (51745, 9.61), (51755, 9.77),
    (51764, 10.09), (51774, 10.41), (51784, 10.74), (51793, 11.06), (51803, 11.45), (51813, 11.86), (51822, 12.18),
    (51832, 12.5), (51841, 12.98), (51851, 13.3), (51855, 13.7), (51870, 12.98), (51880, 12.66), (51890, 12.34),
    (51899, 12.0), (51909, 11.7), (51918, 11.38), (51928, 11.06), (51938, 10.82), (51947, 10.57), (51957, 10.33),
    (51966, 10.0), (51976, 9.77), (51986, 9.61), (51990, 9.21), (51995, 9.85), (52005, 10.25), (52015, 10.57),
    (52024, 11.06), (52034, 11.54), (52043, 12.0), (52053, 12.5), (52063, 12.98), (52072, 13.3), (52082, 13.46),
    (52092, 13.62), (52101, 13.7), (52111, 13.54), (52120, 13.3), (52130, 13.06), (52140, 12.66), (52149, 12.18),
    (52159, 11.86), (52169, 11.54), (52178, 11.38), (52188, 11.14), (52197, 10.98), (52207, 10.74), (52217, 10.41),
    (52226, 10.17), (52236, 9.93), (52246, 9.61), (52255, 10.33), (52265, 10.57), (52274, 11.06), (52284, 11.54),
    (52294, 12.0), (52303, 12.5), (52313, 12.82), (52323, 13.06), (52332, 13.22), (52342, 13.38), (52351, 13.7),
    (52361, 13.54), (52371, 12.98), (52380, 12.5), (52390, 12.0), (52399, 11.54), (52409, 11.06), (52419, 10.65),
    (52428, 10.41), (52438, 10.17), (52448, 10.09), (52457, 10.25), (52467, 10.57), (52477, 10.9), (52486, 11.38),
    (52496, 11.06), (52505, 11.54), (52515, 11.7), (52525, 11.86), (52534, 12.0), (52544, 12.18), (52553, 12.5),
    (52563, 12.66), (52573, 12.74), (52582, 12.9), (52592, 13.06), (52611, 13.06), (52621, 12.0), (52630, 11.94),
    (52409, 10.41), (52438, 10.82), (52467, 11.22), (52505, 10.9), (52525, 11.45), (52553, 11.7), (52582, 12.34),
    (52650, 10.65), (52659, 9.77), (52669, 9.69), (52678, 9.85), (52688, 10.09), (52698, 10.0), (52707, 10.25),
    (52717, 10.41), (52727, 10.65), (52736, 11.06), (52746, 11.38), (52756, 11.7), (52765, 11.94), (52775, 12.18),
    (52784, 12.34), (52794, 12.5), (52804, 12.66), (52813, 12.74), (52823, 12.82), (52832, 12.98), (52842, 12.66),
    (52852, 12.18), (52861, 11.86), (52871, 11.45), (52881, 11.06), (52890, 10.57), (52900, 10.17), (52910, 9.85),
    (52919, 9.61), (52929, 9.85), (52938, 9.45), (52948, 9.69), (52958, 10.17), (52967, 10.82), (52977, 11.06),
    (52986, 11.38), (52996, 11.78), (53006, 12.0), (53015, 12.34), (53025, 12.58), (53035, 12.74), (53044, 12.98),
    (53054, 13.14), (53064, 12.74), (53073, 12.34), (53083, 11.86), (53092, 11.38), (53102, 10.9), (53112, 10.41),
    (53121, 10.09), (53131, 10.0), (53141, 10.25), (53150, 10.17), (53160, 10.5), (53169, 10.25), (53179, 10.65),
    (53189, 10.9), (53198, 11.22), (53208, 11.38), (53218, 11.54), (53227, 11.86), (53237, 12.0), (53246, 12.26),
    (53256, 12.34), (53265, 12.66), (53275, 12.9), (53285, 13.22), (53289, 13.7), (53294, 12.5), (53304, 12.42),
    (52659, 10.41), (52678, 10.25), (52717, 11.06), (52756, 12.0), (52804, 12.26), (52910, 9.45), (52929, 10.25),
    (52948, 10.41), (53102, 11.22), (53141, 10.9), (53160, 11.06), (53323, 11.45), (53333, 11.14), (53342, 10.9),
    (53352, 10.74), (53362, 10.25), (53371, 10.17), (53381, 10.9), (53391, 11.06), (53400, 10.82), (53410, 11.06),
    (53420, 10.98), (53429, 10.82), (53439, 10.41), (53448, 11.22), (53458, 11.38), (53468, 11.7), (53477, 12.0),
    (53487, 12.18), (53497, 12.5), (53507, 12.66), (53516, 12.98), (53525, 13.3), (53535, 13.54), (53545, 12.82),
    (53554, 12.0), (53564, 11.38), (53574, 10.41), (53583, 10.17), (53593, 10.33), (53602, 10.65), (53612, 10.9),
    (53622, 11.14), (53631, 11.38), (53641, 11.7), (53650, 11.3), (53660, 11.54), (53670, 11.06), (53679, 11.45),
    (53689, 11.7), (53699, 11.94), (53718, 12.34), (53727, 12.5), (53747, 12.5), (53352, 11.14), (53410, 10.65),
    (53574, 10.9), (53612, 10.5), (53650, 11.86),
    (53709, 11.86), (53718, 12.42), (53728, 12.5), (53737, 12.34), (53747, 12.58), (53757, 12.66), (53766, 12.58),
    (53776, 12.34), (53786, 11.86), (53795, 11.06), (53805, 10.41), (53814, 10.17), (53824, 9.77), (53834, 10.25),
    (53843, 10.41), (53853, 10.9), (53863, 11.06), (53872, 11.3), (53882, 11.38), (53891, 11.54), (53901, 11.62),
    (53911, 11.78), (53920, 11.86), (53930, 11.94), (53940, 12.1), (53949, 12.34), (53959, 12.42), (53968, 12.5),
    (53978, 12.66), (53988, 12.74), (53997, 12.5), (54007, 12.18), (54017, 11.86), (54026, 11.54), (54036, 11.06),
    (54045, 10.65), (54055, 10.41), (54065, 10.09), (54074, 9.77), (54084, 10.0), (54094, 10.41), (54103, 10.82),
    (54113, 11.3), (54122, 11.54), (54132, 11.7), (54142, 12.0), (54151, 11.94), (54161, 11.86), (54171, 11.78),
    (54180, 11.7), (54190, 11.62), (54199, 11.54), (54209, 11.45), (54219, 11.54), (54228, 11.78), (54238, 11.54),
    (54247, 11.38), (54257, 11.22), (54267, 11.06), (54276, 10.82), (54286, 10.65), (54296, 10.41), (54305, 10.17),
    (54315, 10.33), (54324, 10.57), (54334, 10.98), (54344, 11.38), (54353, 11.86), (54363, 12.26), (54373, 12.5),
    (54382, 12.66), (54392, 12.34), (54402, 12.1), (54411, 11.7), (54421, 11.62), (54430, 11.54), (54440, 11.3),
    (54450, 11.22), (54459, 11.14), (54469, 11.06), (54478, 10.98), (54488, 10.9), (54498, 10.82), (54507, 10.9),
    (54517, 10.65), (54527, 10.57), (54536, 10.5), (54546, 10.09), (54555, 10.57), (54565, 10.65), (54575, 11.06),
    (54584, 11.38), (54594, 11.86), (54604, 12.18), (54613, 12.5), (54623, 12.82), (54632, 13.14), (54642, 12.66),
    (54652, 11.86), (54661, 11.54), (54671, 11.22), (54680, 11.06), (54690, 10.9), (54700, 10.74), (54709, 10.65),
    (54719, 10.82), (54729, 11.06), (54738, 11.22), (54748, 11.14), (54757, 10.65), (54767, 10.41), (54777, 10.82),
    (54786, 10.9), (54796, 11.22), (54805, 11.3), (54815, 11.38), (54825, 11.38), (54834, 11.54), (54844, 11.22),
    (54854, 11.38), (54863, 11.22), (54873, 10.98), (54883, 10.74), (54892, 10.57), (54902, 10.5), (54911, 10.65),
    (54921, 10.9), (54931, 11.06), (54940, 11.14), (54950, 11.22), (54959, 11.3), (54969, 11.45), (54979, 11.38),
    (54988, 11.22), (54998, 11.14), (55008, 11.06), (55017, 10.9), (55027, 11.14), (55036, 11.3), (55046, 11.45),
    (55056, 11.38), (55065, 11.54), (55075, 11.7), (55085, 11.45), (55094, 11.3), (55104, 11.06), (55113, 10.74),
    (55123, 10.5), (55133, 10.65), (55142, 11.06), (55152, 11.3), (55162, 11.38), (55171, 11.54), (55181, 11.78),
    (55190, 12.0), (55200, 11.54), (55210, 11.38), (55219, 11.3), (55229, 11.22), (55239, 11.06), (55248, 11.14),
    (55258, 11.06), (55267, 10.98), (55277, 11.06), (55287, 11.22), (55296, 11.3), (55306, 11.06), (55316, 10.9),
    (55325, 10.65), (55335, 10.33), (55345, 9.93), (55350, 9.77), (55354, 10.17), (55364, 10.41), (55373, 10.74),
    (55383, 10.98), (55393, 11.22), (55402, 11.45), (55412, 11.62), (55422, 11.78), (55431, 11.86), (55441, 12.0),
    (55450, 11.86), (55460, 11.7), (55470, 11.45), (55479, 11.22), (55489, 11.06), (55499, 10.82), (55508, 10.9),
    (55518, 11.06), (55527, 11.22), (55537, 11.14), (55547, 10.98), (55556, 11.06), (55566, 11.22), (55575, 11.45),
    (55585, 11.3), (55595, 11.06), (55604, 10.65), (55614, 10.9), (55623, 11.38), (55633, 11.7), (55643, 11.54),
    (55652, 11.3), (55662, 11.06), (55672, 10.82), (55681, 10.57), (55691, 10.25), (55700, 10.09), (55710, 10.0),
    (55720, 10.17), (55729, 10.33), (55739, 9.93), (55745, 9.77), (55749, 10.25), (55758, 10.41), (55768, 10.65),
    (55777, 10.82), (55787, 10.98), (55797, 11.14), (55806, 11.3), (55816, 11.38), (55826, 11.54), (55835, 11.62),
    (55845, 11.78), (55854, 11.86), (55864, 11.94), (55873, 12.0), (55883, 12.18), (55887, 12.58), (55893, 11.86),
    (55902, 11.54), (55912, 11.14), (55922, 10.9), (55931, 10.57), (55941, 10.17), (55951, 10.0), (55960, 10.25),
    (55970, 10.5), (55980, 10.82), (55989, 11.06), (55999, 11.3), (56008, 11.38), (56018, 11.45), (56028, 11.54),
    (56037, 11.62), (56047, 11.7), (56057, 11.78), (56066, 11.86), (56076, 11.94), (56085, 12.0), (56095, 12.18),
    (56105, 12.26), (56114, 12.0), (56124, 11.86), (56133, 11.62), (56143, 11.38), (56153, 11.06), (56162, 10.74),
    (56172, 10.41), (56181, 10.09), (56191, 9.93), (56201, 10.17), (56210, 10.5), (56220, 10.82), (56230, 11.14),
    (56239, 11.54), (56249, 11.86), (56259, 12.1), (56268, 12.0), (56278, 11.94), (56287, 12.0), (56297, 12.1),
    (56306, 12.0), (56316, 11.94), (56326, 11.86), (56336, 11.78), (56345, 11.54), (56355, 11.22), (56364, 10.9),
    (56374, 10.57), (56384, 10.17), (56393, 9.77), (56403, 10.25), (56412, 10.74), (56422, 11.22), (56432, 11.62),
    (56441, 11.86), (56451, 12.1), (56461, 12.34),
    (53814, 10.65), (53853, 11.38), (53891, 11.14), (53930, 11.54), (53968, 12.0), (54065, 10.57), (54103, 11.22),
    (54161, 11.45), (54199, 11.94), (54238, 11.94), (54276, 11.22), (54315, 10.9), (54353, 12.34), (54392, 12.82),
    (54430, 11.14), (54469, 11.45), (54507, 11.3), (54546, 11.06), (54604, 12.66), (54623, 12.34), (54661, 11.06),
    (54700, 11.22), (54738, 10.82), (54777, 11.22), (54815, 11.78), (54854, 11.78), (54892, 11.06), (54931, 11.45),
    (54969, 11.78), (55008, 11.38), (55046, 11.14), (55085, 11.86), (55123, 10.9), (55162, 10.98), (55200, 12.0),
    (55239, 11.45), (55277, 11.54), (55316, 11.3), (55373, 10.25), (55393, 11.62), (55431, 12.18), (55470, 11.86),
    (55508, 11.38), (55547, 11.45), (55585, 11.7), (55623, 10.98), (55662, 11.54), (55700, 10.65), (55720, 10.57),
    (55777, 11.22), (55816, 11.86), (55854, 11.54), (55873, 12.34), (55931, 10.98), (55970, 10.9), (56008, 11.78),
    (56047, 12.0), (56085, 11.7), (56124, 12.18), (56162, 11.14), (56201, 10.57), (56239, 11.22), (56278, 12.26),
    (56316, 11.62), (56355, 11.54), (56393, 10.41), (56432, 12.0),
    (56412, 10.41), (56422, 10.33), (56431, 10.82), (56441, 11.22), (56450, 11.7), (56460, 12.0), (56470, 12.18),
    (56479, 12.34), (56489, 12.5), (56499, 12.26), (56508, 12.1), (56518, 11.78), (56527, 11.38), (56537, 11.22),
    (56547, 11.06), (56556, 10.82), (56566, 10.65), (56576, 10.5), (56585, 10.33), (56595, 10.25), (56604, 10.41),
    (56614, 10.57), (56624, 10.65), (56633, 10.98), (56643, 11.3), (56653, 11.54), (56662, 11.7), (56672, 11.86),
    (56681, 11.94), (56691, 11.78), (56701, 11.94), (56710, 12.1), (56720, 12.18), (56730, 11.94), (56739, 11.62),
    (56749, 11.22), (56758, 10.82), (56768, 10.5), (56778, 10.33), (56787, 10.25), (56797, 10.41), (56807, 10.57),
    (56816, 10.74), (56826, 10.98), (56835, 11.22), (56845, 11.38), (56855, 11.54), (56864, 11.62), (56874, 11.7),
    (56883, 11.78), (56893, 11.86), (56903, 11.78), (56912, 12.0), (56922, 12.18), (56932, 11.86), (56941, 11.62),
    (56951, 11.54), (56960, 11.22), (56970, 10.74), (56980, 10.41), (56989, 10.17), (56999, 10.09), (57009, 10.25),
    (57018, 10.57), (57028, 10.82), (57037, 11.14), (57047, 11.38), (57057, 11.54), (57066, 11.45), (57076, 11.54),
    (57086, 11.45), (57095, 11.38), (57105, 11.45), (57114, 11.38), (57124, 11.22), (57134, 11.14), (57143, 10.98),
    (57153, 10.82), (57163, 10.65), (57172, 10.5), (57182, 10.41), (57191, 10.33), (57201, 10.25), (57211, 10.41),
    (57220, 10.57), (57230, 10.74), (57240, 11.06), (57249, 11.3), (57259, 11.54), (57268, 11.78), (57278, 11.86),
    (57288, 12.0), (57297, 12.18), (57307, 12.34), (57317, 12.1), (57326, 11.78), (57336, 11.38), (57345, 11.06),
    (57355, 10.9), (57365, 10.82), (57374, 10.98), (57384, 11.06), (57393, 11.14), (57403, 11.22), (57413, 11.14),
    (57422, 10.98), (57432, 11.06), (57442, 11.22), (57451, 11.14), (57461, 11.06), (57471, 11.14), (57480, 11.3),
    (57490, 11.54), (57499, 11.86), (57509, 12.0), (57519, 11.78), (57528, 11.22), (57538, 10.74), (57547, 10.41),
    (57557, 10.0), (57561, 10.5), (57567, 10.57), (57576, 10.74), (57586, 10.98), (57596, 11.14), (57605, 11.22),
    (57615, 11.3), (57624, 11.38), (57634, 11.45), (57644, 11.38), (57653, 11.54), (57663, 11.38), (57673, 11.45),
    (57682, 11.3), (57692, 11.22), (57701, 11.06), (57711, 10.9), (57721, 10.65), (57730, 10.41), (57740, 10.57),
    (57750, 10.74), (57759, 10.82), (57769, 10.98), (57778, 11.14), (57788, 11.22), (57798, 11.3), (57807, 11.22),
    (57817, 11.38), (57827, 11.3), (57836, 11.14), (57846, 11.3), (57855, 11.22), (57865, 11.38), (57875, 11.3),
    (57884, 11.14), (57894, 11.22), (57904, 11.06), (57913, 11.14), (57923, 11.22), (57932, 11.14), (57942, 11.3),
    (57952, 11.22), (57961, 11.06), (57971, 10.9), (57980, 10.82), (57990, 10.65), (57999, 10.41), (58009, 10.57),
    (58019, 10.74), (58029, 11.14), (58038, 11.45), (58048, 11.78), (58058, 12.1), (58067, 12.26), (58077, 11.94),
    (58087, 11.62), (58096, 11.3), (58106, 11.14), (58115, 11.06), (58125, 10.98), (58135, 11.06), (58144, 10.98),
    (58154, 10.9), (58164, 11.06), (58173, 10.98), (58183, 10.9), (58192, 10.82), (58202, 10.65), (58211, 10.74),
    (58221, 10.65), (58231, 10.9), (58240, 11.14), (58250, 11.45), (58260, 11.86), (58269, 11.54), (58279, 11.3),
    (58288, 11.14), (58298, 11.06), (58308, 10.98), (58317, 10.74), (58327, 10.82), (58337, 10.9), (58346, 11.06),
    (58356, 11.14), (58365, 11.3), (58375, 11.38), (58385, 11.22), (58394, 11.06), (58404, 10.9), (58413, 10.82),
    (58423, 10.98), (58433, 10.9), (58442, 10.82), (58452, 10.9), (58462, 10.98), (58471, 10.9),
    (56450, 12.18), (56489, 12.0), (56527, 11.86), (56566, 11.06), (56604, 10.82), (56643, 10.9), (56681, 11.54),
    (56720, 11.78), (56758, 11.22), (56797, 10.9), (56835, 11.54), (56874, 11.45), (56912, 11.7), (56951, 11.86),
    (56989, 10.57), (57028, 11.22), (57066, 11.78), (57105, 11.14), (57143, 11.3), (57182, 10.82), (57220, 10.98),
    (57259, 11.14), (57297, 11.86), (57336, 11.7), (57374, 11.22), (57413, 11.45), (57451, 11.38), (57490, 11.22),
    (57528, 11.54), (57567, 11.06), (57605, 11.54), (57644, 11.7), (57682, 11.62), (57721, 11.06), (57759, 11.14),
    (57798, 11.62), (57836, 11.54), (57875, 10.98), (57913, 11.45), (57952, 11.54), (57990, 11.06), (58029, 10.82),
    (58067, 11.94), (58106, 11.45), (58144, 11.3), (58183, 11.22), (58221, 10.98), (58260, 11.54), (58298, 11.38),
    (58337, 11.22), (58375, 11.06), (58413, 11.14), (58452, 11.06),
]

# panel x ranges (BJD-2400000) and figure-fraction bottoms
PANEL_XLIM = [(16450, 27100), (27090, 37690), (37690, 48295), (48300, 58895)]
PANEL_BOTTOM = [0.7887, 0.5395, 0.2892, 0.0390]
AX_LEFT, AX_WIDTH, AX_HEIGHT = 0.041, 0.9426, 0.1713

POINT_COLOR = '#0072BD'
FRAME_COLOR = '#262626'
TICK_FS = 14


def year_to_bjd(year, month=1, day=1):
    # BJD - 2400000 = MJD + 0.5
    return (date(year, month, day) - date(1858, 11, 17)).days + 0.5


all_obs = np.array(obs_1905 + obs_1935 + obs_1965 + obs_1995)
bjd, vis_mag = all_obs[:, 0], all_obs[:, 1]

fig = plt.figure(figsize=(19.5, 9.75), dpi=100)

for (lo, hi), bottom in zip(PANEL_XLIM, PANEL_BOTTOM):
    ax = fig.add_axes([AX_LEFT, bottom, AX_WIDTH, AX_HEIGHT])
    ax.plot(bjd, vis_mag, 'o', color=POINT_COLOR, markersize=4.8, markeredgewidth=0, zorder=3)

    ax.set_xlim(lo, hi)
    ax.set_ylim(15.5, 7.5)
    ax.xaxis.set_major_locator(MultipleLocator(1000))
    ax.xaxis.set_minor_locator(MultipleLocator(200))
    ax.xaxis.set_major_formatter(FormatStrFormatter('%d'))
    ax.yaxis.set_major_locator(FixedLocator([8, 10, 12, 14]))
    ax.yaxis.set_minor_locator(MultipleLocator(0.5))
    ax.yaxis.set_major_formatter(FormatStrFormatter('%d'))
    ax.set_ylabel('Visual mag', fontsize=13, labelpad=7)

    # Year axis on top
    top = ax.twiny()
    top.set_xlim(lo, hi)
    years = [y for y in range(1900, 2022) if lo <= year_to_bjd(y) <= hi]
    top.set_xticks([year_to_bjd(y) for y in years if y % 5 == 0])
    top.set_xticklabels([str(y) for y in years if y % 5 == 0])
    half_years = [year_to_bjd(y, m) for y in range(1900, 2022) for m in (1, 7)]
    top.xaxis.set_minor_locator(FixedLocator([v for v in half_years if lo <= v <= hi]))

    for a in (ax, top):
        for side in a.spines.values():
            side.set_color(FRAME_COLOR)
            side.set_linewidth(1.0)

    ax.tick_params(which='both', direction='in', top=False, right=True, colors=FRAME_COLOR,
                   labelcolor='black', labelsize=TICK_FS)
    ax.tick_params(which='major', length=6, width=0.8)
    ax.tick_params(which='minor', length=3, width=0.8)
    ax.tick_params(axis='x', which='major', pad=7)
    ax.tick_params(axis='y', which='major', pad=7)
    top.tick_params(which='both', direction='in', colors=FRAME_COLOR, labelcolor='black', labelsize=TICK_FS)
    top.tick_params(which='major', length=6, width=0.8, pad=5)
    top.tick_params(which='minor', length=3, width=0.8)

fig.text(40 / 1950, 1 - 25 / 975, 'Year', ha='center', va='center', fontsize=TICK_FS)
fig.text(8 / 1950, 1 - 958 / 975, 'BJD-2400000 (d)', ha='left', va='center', fontsize=TICK_FS)

fig.savefig('out.png', dpi=100)
